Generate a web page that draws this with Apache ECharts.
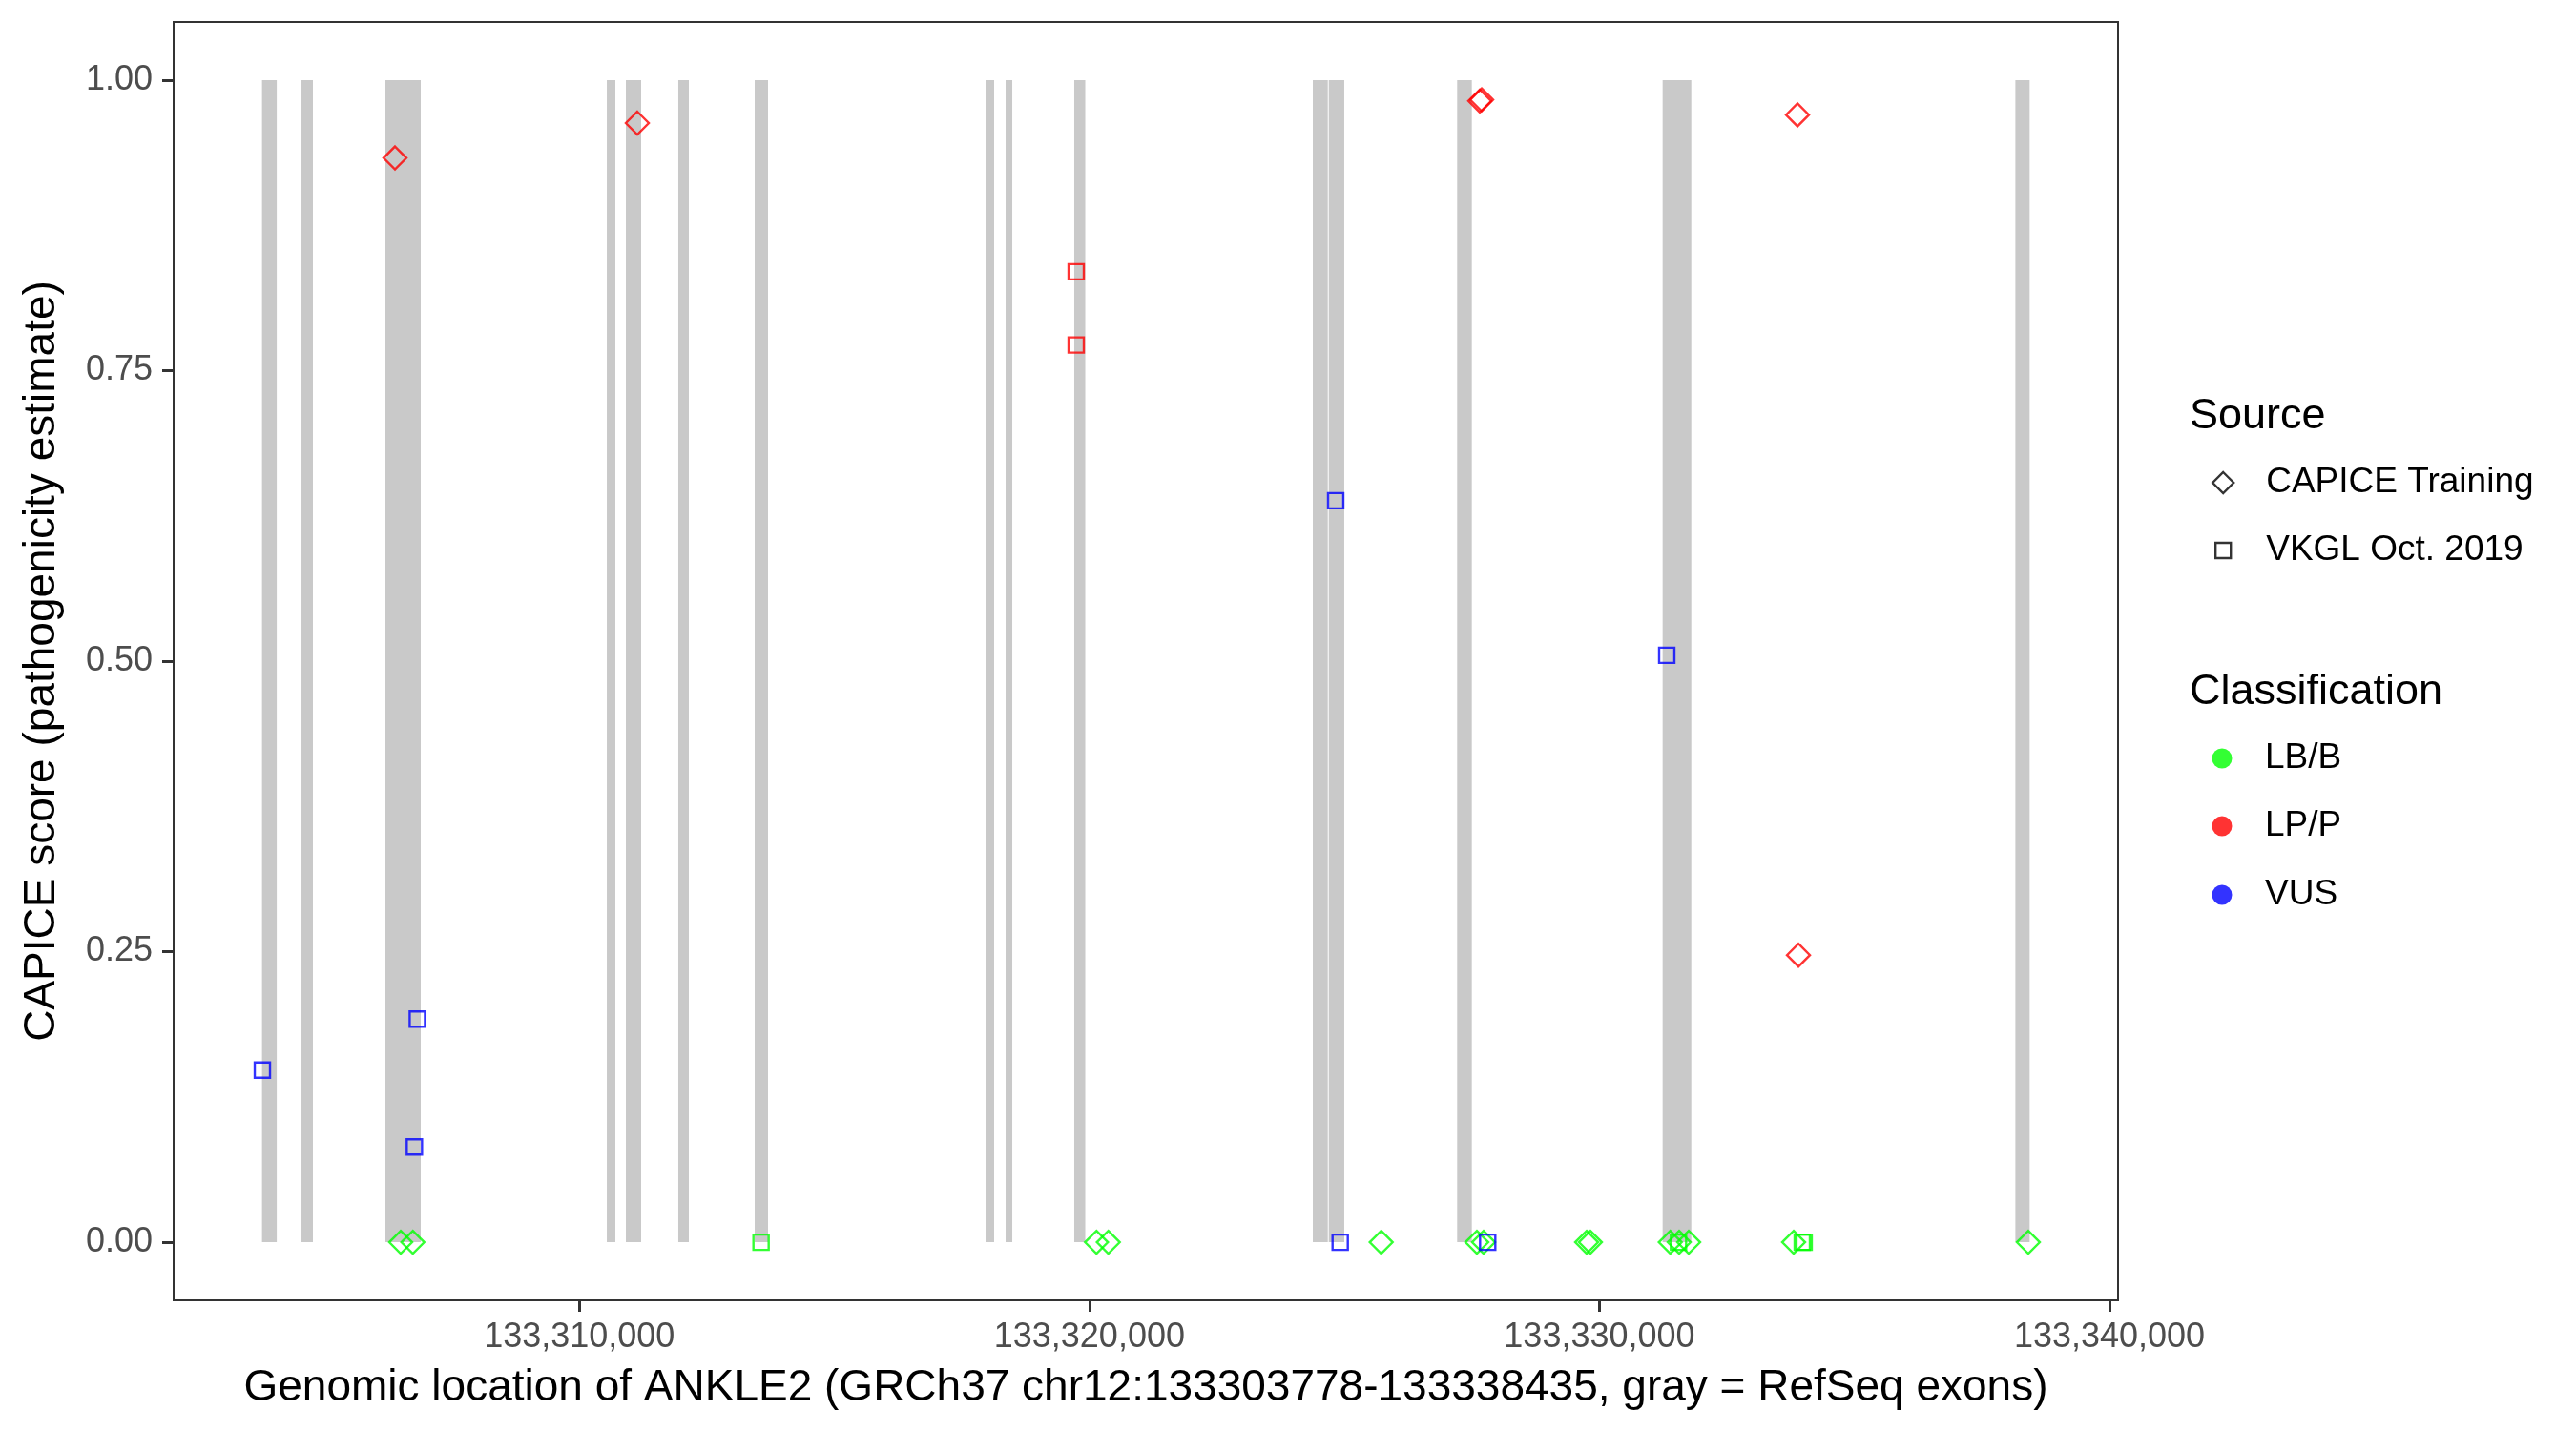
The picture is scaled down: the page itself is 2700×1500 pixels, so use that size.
<!DOCTYPE html>
<html>
<head>
<meta charset="utf-8">
<script src="https://cdn.jsdelivr.net/npm/echarts@6/dist/echarts.min.js"></script>
<style>html,body{margin:0;padding:0;background:#fff}#chart{width:2700px;height:1500px}</style>
</head>
<body>
<div id="chart"></div>
<script>
// ---- Data ----
const exonStarts = [133303778, 133304552, 133306198, 133310538, 133310912, 133311940, 133313437, 133317964, 133318357, 133319703, 133324380, 133324693, 133327210, 133331239, 133338155];
const exonEnds   = [133304067, 133304776, 133306890, 133310706, 133311211, 133312146, 133313699, 133318132, 133318488, 133319919, 133324674, 133324997, 133327498, 133331801, 133338435];

// CAPICE Training (diamonds)
const capiceLPP = [[133306385, 0.933], [133311136, 0.963], [133327654, 0.982], [133327691, 0.983], [133333883, 0.970], [133333902, 0.247]];
const capiceLBB = [[133306497, 0], [133306735, 0], [133320139, 0], [133320371, 0], [133325721, 0], [133327597, 0], [133327728, 0], [133329749, 0], [133329823, 0], [133331389, 0], [133331563, 0], [133331750, 0], [133333808, 0], [133338409, 0]];
// VKGL Oct. 2019 (squares)
const vkglLPP = [[133319741, 0.835], [133319741, 0.772]];
const vkglVUS = [[133303785, 0.148], [133306823, 0.192], [133306765, 0.082], [133324829, 0.638], [133324917, 0.0], [133331320, 0.505], [133327809, 0.0]];
const vkglLBB = [[133313562, 0], [133331550, 0], [133333976, 0], [133334013, 0]];

const xTicks = [133310000, 133320000, 133330000, 133340000];
const yTicks = [0, 0.25, 0.5, 0.75, 1];
const sourceNames = ['CAPICE Training', 'VKGL Oct. 2019'];
const classNames = ['LB/B', 'LP/P', 'VUS'];
const classColors = ['#00FF00', '#FF0000', '#0000FF'];

// ---- Chart ----
const FONT = '"Liberation Sans", Arial, Helvetica, sans-serif';
const chart = echarts.init(document.getElementById('chart'), null, {renderer: 'canvas'});

function hollow(color) {
  return {color: 'rgba(0,0,0,0)', borderColor: color, borderWidth: 2.4};
}
function pointSeries(name, data, symbol, size, color) {
  return {
    name: name, type: 'scatter', data: data, symbol: symbol, symbolSize: size,
    itemStyle: hollow(color), silent: true, emphasis: {disabled: true}, z: 5
  };
}

const legendText = {fontSize: 37, fontFamily: FONT, color: '#000', lineHeight: 40};
function oneLegend(name, icon, w, h, style, cx, cy) {
  return {
    orient: 'vertical', left: cx - w / 2, top: cy - 20, padding: 0,
    itemWidth: w, itemHeight: h, selectedMode: false,
    textStyle: Object.assign({}, legendText, {padding: [0, 0, 0, 2374 - (cx - w / 2) - w - 5]}),
    data: [{name: name, icon: icon, itemStyle: style}]
  };
}

const axisLineStyle = {show: true, onZero: false, lineStyle: {color: '#333333', width: 2}};
const tickStyle = {show: true, inside: false, length: 12, lineStyle: {color: '#333333', width: 3}};

const option = {
  animation: false,
  backgroundColor: '#fff',
  grid: {left: 182, top: 23, width: 2038, height: 1340, show: true, borderColor: '#333333', borderWidth: 2, backgroundColor: '#fff'},
  xAxis: {
    type: 'value', min: 133302045, max: 133340168,
    name: 'Genomic location of ANKLE2 (GRCh37 chr12:133303778-133338435, gray = RefSeq exons)',
    nameLocation: 'middle', nameGap: 69,
    nameTextStyle: {fontSize: 46, fontFamily: FONT, color: '#000'},
    axisLine: axisLineStyle,
    splitLine: {show: false},
    axisTick: Object.assign({customValues: xTicks}, tickStyle),
    axisLabel: {show: true, margin: 21, fontSize: 36, fontFamily: FONT, color: '#4D4D4D', customValues: xTicks,
      formatter: v => Math.round(v).toLocaleString('en-US')}
  },
  yAxis: {
    type: 'value', min: -0.05, max: 1.05,
    name: 'CAPICE score (pathogenicity estimate)',
    nameLocation: 'middle', nameGap: 115,
    nameTextStyle: {fontSize: 46, fontFamily: FONT, color: '#000'},
    axisLine: axisLineStyle,
    splitLine: {show: false},
    axisTick: Object.assign({customValues: yTicks}, tickStyle),
    axisLabel: {show: true, margin: 22, fontSize: 36, fontFamily: FONT, color: '#4D4D4D', customValues: yTicks,
      formatter: v => v.toFixed(2)}
  },
  legend: [
    oneLegend(sourceNames[0], 'diamond', 22, 22, hollow('#000'), 2329, 506),
    oneLegend(sourceNames[1], 'rect', 16, 16, hollow('#000'), 2329, 577),
    oneLegend(classNames[0], 'circle', 21, 21, {color: classColors[0]}, 2329, 795),
    oneLegend(classNames[1], 'circle', 21, 21, {color: classColors[1]}, 2329, 866),
    oneLegend(classNames[2], 'circle', 21, 21, {color: classColors[2]}, 2329, 938)
  ],
  graphic: [
    {type: 'text', x: 2295, y: 437, style: {text: 'Source', fontSize: 45, fontFamily: FONT, fill: '#000', verticalAlign: 'middle'}},
    {type: 'text', x: 2295, y: 726, style: {text: 'Classification', fontSize: 45, fontFamily: FONT, fill: '#000', verticalAlign: 'middle'}}
  ],
  series: [
    {
      name: 'exons', type: 'custom', silent: true, z: 1,
      data: exonStarts.map((s, i) => [s, exonEnds[i]]),
      encode: {x: [0, 1]},
      renderItem: function (params, api) {
        const p0 = api.coord([api.value(0), 1]);
        const p1 = api.coord([api.value(1), 0]);
        return {type: 'rect', shape: {x: p0[0], y: p0[1], width: p1[0] - p0[0], height: p1[1] - p0[1]}, style: {fill: '#C9C9C9'}};
      }
    },
    pointSeries('CAPICE LB/B', capiceLBB, 'diamond', 24, classColors[0]),
    pointSeries('VKGL LB/B', vkglLBB, 'rect', 16, classColors[0]),
    pointSeries('VKGL VUS', vkglVUS, 'rect', 16, classColors[2]),
    pointSeries('VKGL LP/P', vkglLPP, 'rect', 16, classColors[1]),
    pointSeries('CAPICE LP/P', capiceLPP, 'diamond', 24, classColors[1]),
    // legend-only series
    pointSeries(sourceNames[0], [], 'diamond', 22, '#000'),
    pointSeries(sourceNames[1], [], 'rect', 16, '#000'),
    {name: classNames[0], type: 'scatter', data: [], symbol: 'circle', itemStyle: {color: classColors[0]}},
    {name: classNames[1], type: 'scatter', data: [], symbol: 'circle', itemStyle: {color: classColors[1]}},
    {name: classNames[2], type: 'scatter', data: [], symbol: 'circle', itemStyle: {color: classColors[2]}}
  ]
};
chart.setOption(option);
</script>
</body>
</html>
